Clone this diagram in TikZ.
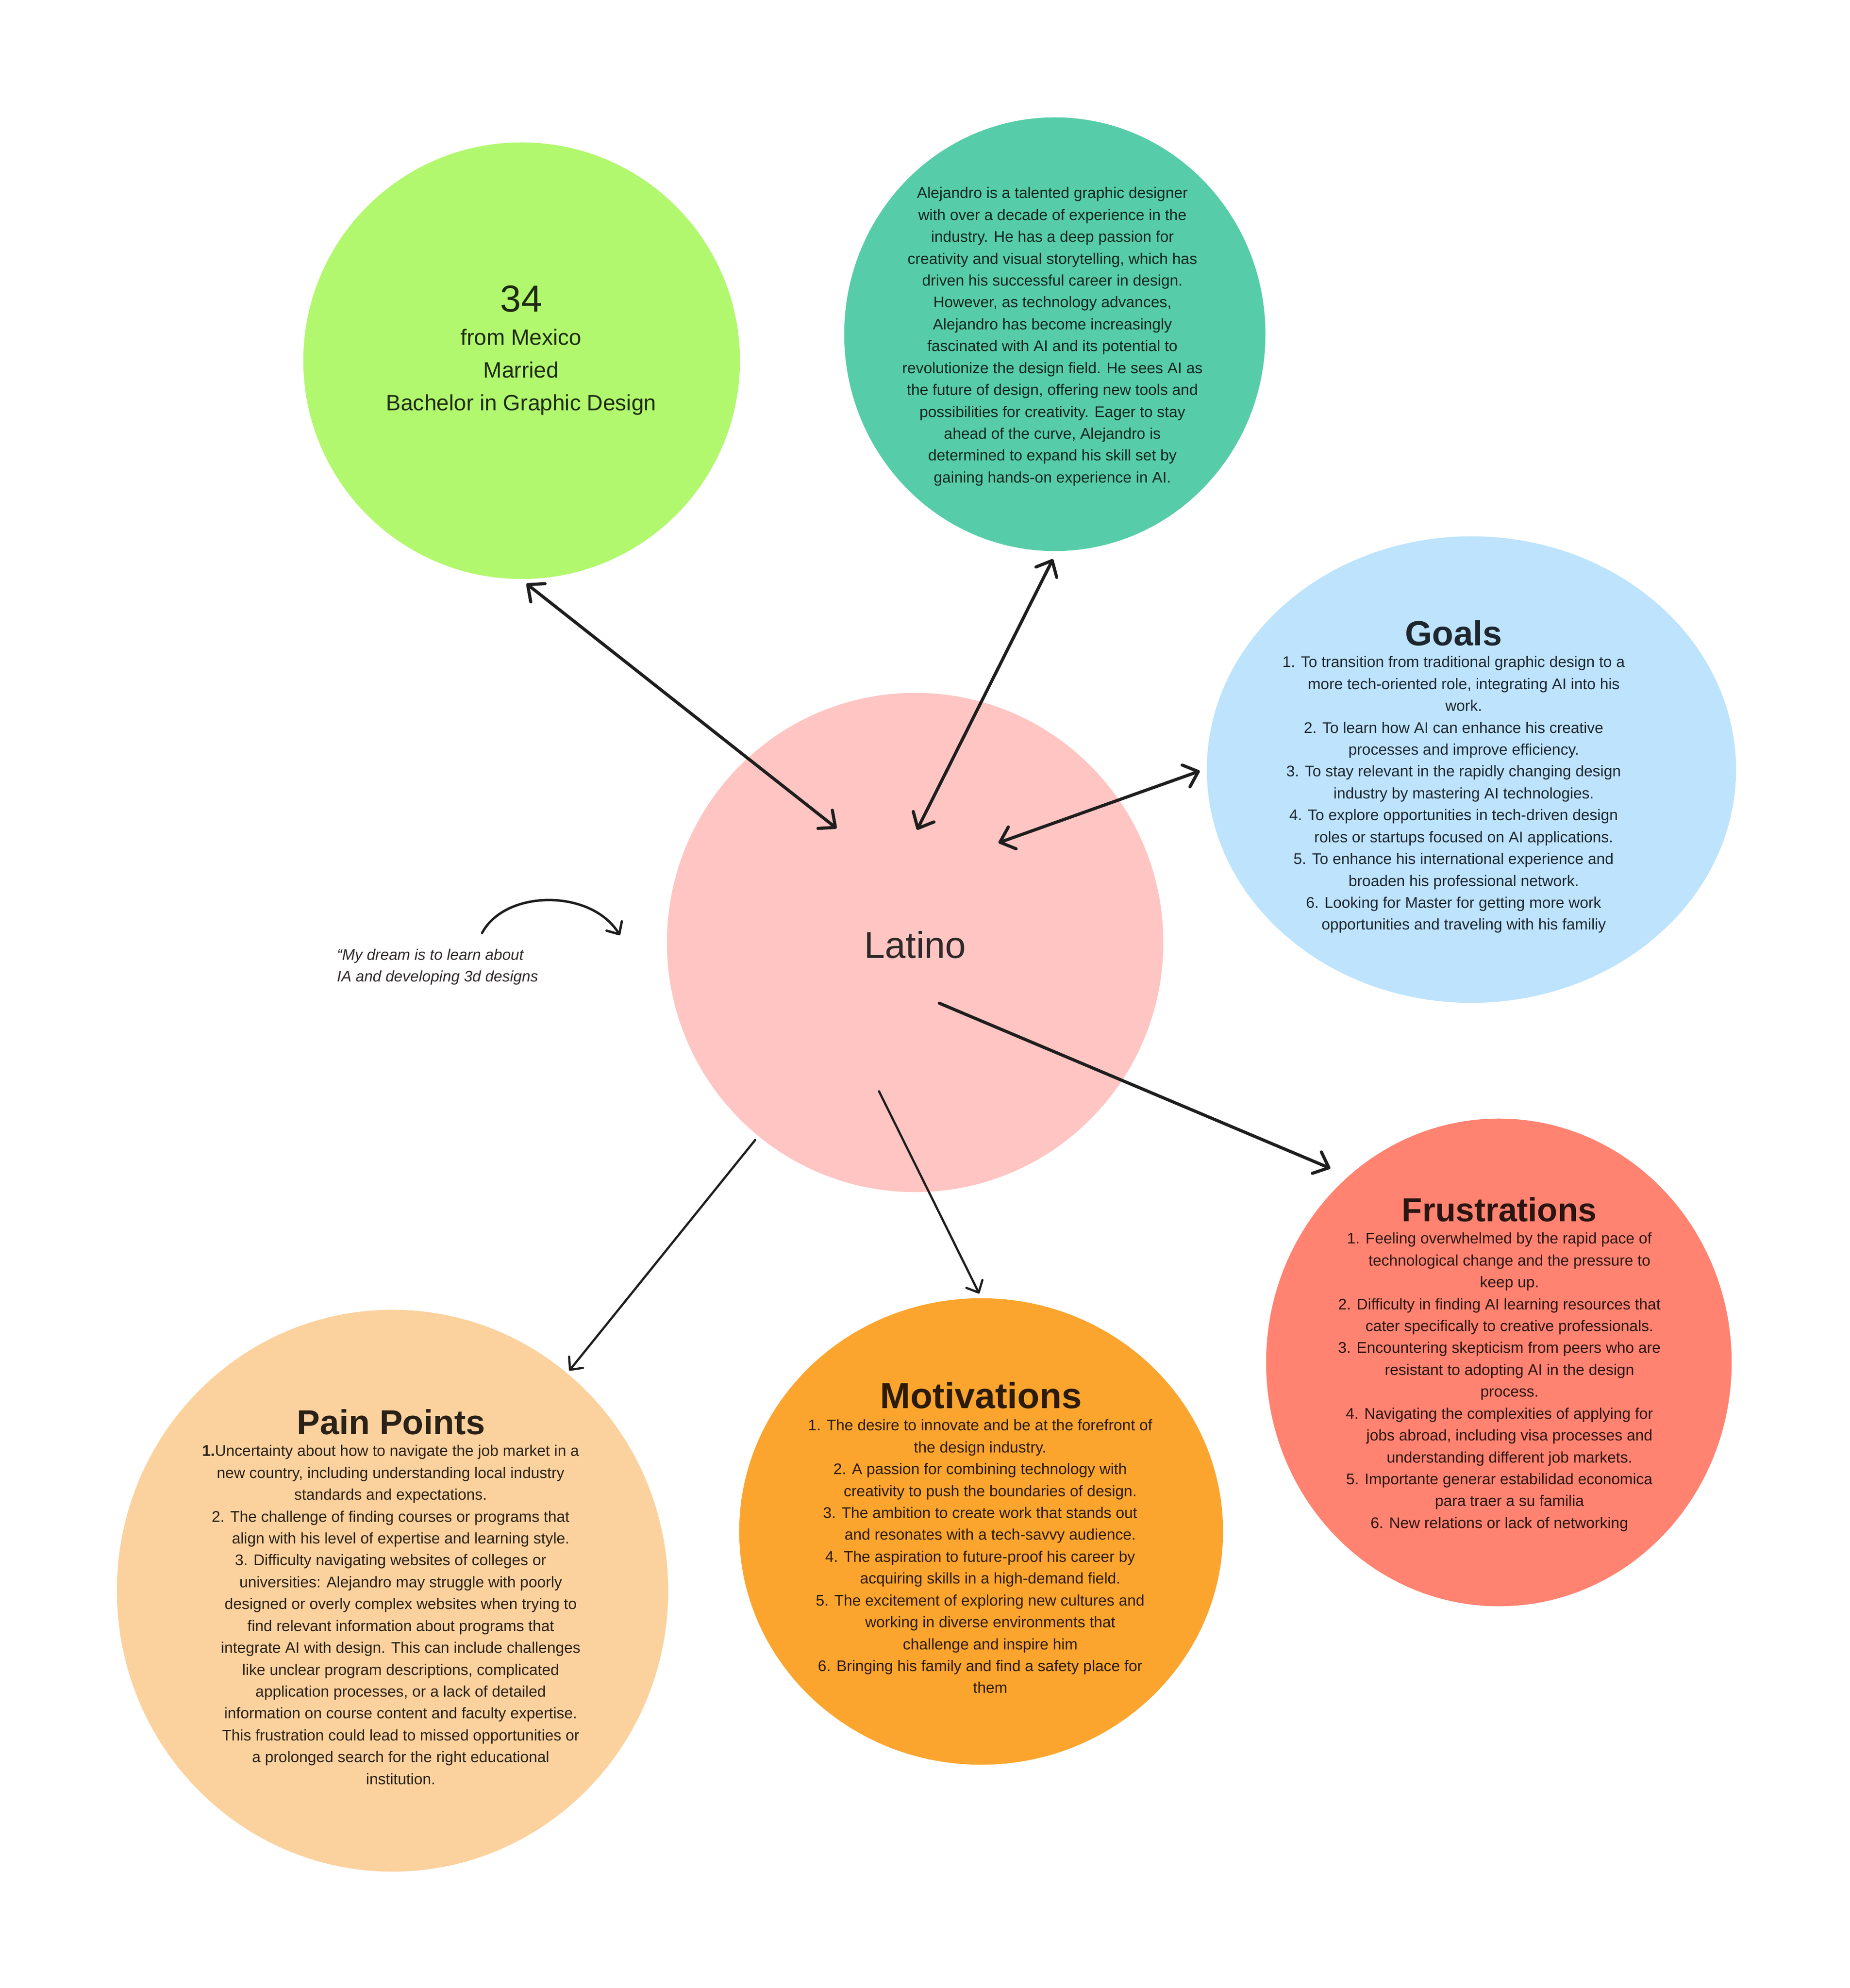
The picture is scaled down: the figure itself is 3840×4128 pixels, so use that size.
\documentclass[tikz,border=0pt]{standalone}
\usepackage{fontspec}
\setmainfont{Liberation Sans}
\usetikzlibrary{shapes.geometric,arrows.meta}
\newcommand\hind{\hspace*{0.42cm}}
\definecolor{cgreen}{HTML}{B2F86E}
\definecolor{cteal}{HTML}{56CDA8}
\definecolor{cblue}{HTML}{BDE3FD}
\definecolor{cpink}{HTML}{FFC5C2}
\definecolor{cred}{HTML}{FF8370}
\definecolor{corange}{HTML}{FCA52E}
\definecolor{cpeach}{HTML}{FBD29E}
\definecolor{cline}{HTML}{1E1E1E}
\definecolor{tgreen}{HTML}{1E2B12}
\definecolor{tteal}{HTML}{10261E}
\definecolor{tblue}{HTML}{1E262E}
\definecolor{tred}{HTML}{2A1512}
\definecolor{torange}{HTML}{2B1B08}
\definecolor{tpeach}{HTML}{2A2118}
\definecolor{tgray}{HTML}{2E2828}
\tikzset{
  BarbA/.tip={Straight Barb[length=0.27cm,width=0.48cm,line cap=round,line join=round]},
  BarbB/.tip={Straight Barb[length=0.2cm,width=0.37cm,line cap=round,line join=round]},
}
\begin{document}
\begin{tikzpicture}[x=0.01cm,y=-0.01cm,
  blob/.style={ellipse, inner sep=0pt, draw=none},
  body/.style={font=\fontsize{9.1pt}{12.92pt}\selectfont, align=center, inner sep=0pt, anchor=north},
  heading/.style={inner sep=0pt, anchor=base},
  twolink/.style={draw=cline, line width=0.065cm, line cap=round, arrows={BarbA-BarbA}},
  onelink/.style={draw=cline, line width=0.045cm, line cap=round, arrows={-BarbB}},
]
\fill[white] (0,0) rectangle (3840,4128);
\useasboundingbox (0,0) rectangle (3840,4128);

% circles
\node[blob, fill=cgreen, minimum width=9.06cm, minimum height=9.06cm] (green) at (1083,749) {};
\node[blob, fill=cteal, minimum width=8.74cm, minimum height=9.0cm] (teal) at (2190,694) {};
\node[blob, fill=cblue, minimum width=10.98cm, minimum height=9.68cm] (goals) at (3055,1598) {};
\node[blob, fill=cpink, minimum width=10.3cm, minimum height=10.36cm] (latino) at (1900,1957) {};
\node[blob, fill=cred, minimum width=9.66cm, minimum height=10.12cm] (frust) at (3112,2829) {};
\node[blob, fill=corange, minimum width=10.04cm, minimum height=9.68cm] (motiv) at (2037,3180) {};
\node[blob, fill=cpeach, minimum width=11.44cm, minimum height=11.66cm] (pain) at (815,3303) {};

% green text
\node[inner sep=0pt, anchor=base, text=tgreen, font=\fontsize{22.2pt}{26pt}\selectfont] (age) at (1082,648) {34};
\node[inner sep=0pt, anchor=north, align=center, text=tgreen, font=\fontsize{13.1pt}{19.35pt}\selectfont] (facts) at (1082,668.4)
{\strut from Mexico\\Married\\Bachelor in Graphic Design};

% teal text
\node[body, text=tteal] (bio) at (2185,379.2) {\strut Alejandro is a talented graphic designer\\
with over a decade of experience in the\\
industry. He has a deep passion for\\
creativity and visual storytelling, which has\\
driven his successful career in design.\\
However, as technology advances,\\
Alejandro has become increasingly\\
fascinated with AI and its potential to\\
revolutionize the design field. He sees AI as\\
the future of design, offering new tools and\\
possibilities for creativity. Eager to stay\\
ahead of the curve, Alejandro is\\
determined to expand his skill set by\\
gaining hands-on experience in AI.};

% goals
\node[heading, text=tblue, font=\fontsize{20.6pt}{24pt}\selectfont\bfseries] (goalsT) at (3018,1340) {Goals};
\node[body, text=tblue] (goalsL) at (3018,1353.2) {\strut 1. To transition from traditional graphic design to a\\
\hind more tech-oriented role, integrating AI into his\\
\hind work.\\
2. To learn how AI can enhance his creative\\
\hind processes and improve efficiency.\\
3. To stay relevant in the rapidly changing design\\
\hind industry by mastering AI technologies.\\
4. To explore opportunities in tech-driven design\\
\hind roles or startups focused on AI applications.\\
5. To enhance his international experience and\\
\hind broaden his professional network.\\
6. Looking for Master for getting more work\\
\hind opportunities and traveling with his familiy};

% latino
\node[inner sep=0pt, anchor=base, text=tgray, font=\fontsize{22pt}{26pt}\selectfont] (latinoT) at (1900,1989) {Latino};

% quote
\node[inner sep=0pt, anchor=north west, align=left, text=tgray, font=\fontsize{9.05pt}{12.8pt}\selectfont\itshape] (quote) at (699,1961.5)
{\strut “My dream is to learn about\\IA and developing 3d designs};

% frustrations
\node[heading, text=tred, font=\fontsize{19.7pt}{24pt}\selectfont\bfseries] (frustT) at (3113,2536) {Frustrations};
\node[body, text=tred] (frustL) at (3113,2550.2) {\strut 1. Feeling overwhelmed by the rapid pace of\\
\hind technological change and the pressure to\\
\hind keep up.\\
2. Difficulty in finding AI learning resources that\\
\hind cater specifically to creative professionals.\\
3. Encountering skepticism from peers who are\\
\hind resistant to adopting AI in the design\\
\hind process.\\
4. Navigating the complexities of applying for\\
\hind jobs abroad, including visa processes and\\
\hind understanding different job markets.\\
5. Importante generar estabilidad economica\\
\hind para traer a su familia\\
6. New relations or lack of networking};

% motivations
\node[heading, text=torange, font=\fontsize{21.4pt}{24pt}\selectfont\bfseries] (motivT) at (2037,2924) {Motivations};
\node[body, text=torange] (motivL) at (2035,2938.2) {\strut 1. The desire to innovate and be at the forefront of\\
the design industry.\\
2. A passion for combining technology with\\
\hind creativity to push the boundaries of design.\\
3. The ambition to create work that stands out\\
\hind and resonates with a tech-savvy audience.\\
4. The aspiration to future-proof his career by\\
\hind acquiring skills in a high-demand field.\\
5. The excitement of exploring new cultures and\\
\hind working in diverse environments that\\
\hind challenge and inspire him\\
6. Bringing his family and find a safety place for\\
\hind them};

% pain points
\node[heading, text=tpeach, font=\fontsize{20.4pt}{24pt}\selectfont\bfseries] (painT) at (812,2978) {Pain Points};
\node[body, text=tpeach] (painL) at (811,2991.2) {\strut\textbf{1.}Uncertainty about how to navigate the job market in a\\
new country, including understanding local industry\\
standards and expectations.\\
2. The challenge of finding courses or programs that\\
\hind align with his level of expertise and learning style.\\
3. Difficulty navigating websites of colleges or\\
\hind universities: Alejandro may struggle with poorly\\
\hind designed or overly complex websites when trying to\\
\hind find relevant information about programs that\\
\hind integrate AI with design. This can include challenges\\
\hind like unclear program descriptions, complicated\\
\hind application processes, or a lack of detailed\\
\hind information on course content and faculty expertise.\\
\hind This frustration could lead to missed opportunities or\\
\hind a prolonged search for the right educational\\
\hind institution.};

% connector end points
\coordinate (g1) at (1093,1212); \coordinate (l1) at (1737,1720);
\coordinate (t1) at (2186,1161); \coordinate (l2) at (1904,1723);
\coordinate (b1) at (2491,1601); \coordinate (l3) at (2073,1750);
\coordinate (l4) at (1950,2083); \coordinate (f1) at (2762,2426);
\coordinate (l5) at (1825,2266); \coordinate (m1) at (2033,2686);
\coordinate (l6) at (1568,2367); \coordinate (p1) at (1182,2846);
\coordinate (q1) at (1001,1937); \coordinate (q2) at (1287,1942);

\draw[twolink] (g1) -- (l1);
\draw[twolink] (t1) -- (l2);
\draw[twolink] (b1) -- (l3);
\draw[twolink, arrows={-BarbA}] (l4) -- (f1);
\draw[onelink] (l5) -- (m1);
\draw[onelink] (l6) -- (p1);
\draw[onelink, line width=0.05cm] (q1) .. controls (1050,1846) and (1228,1846) .. (q2);
\end{tikzpicture}
\end{document}
